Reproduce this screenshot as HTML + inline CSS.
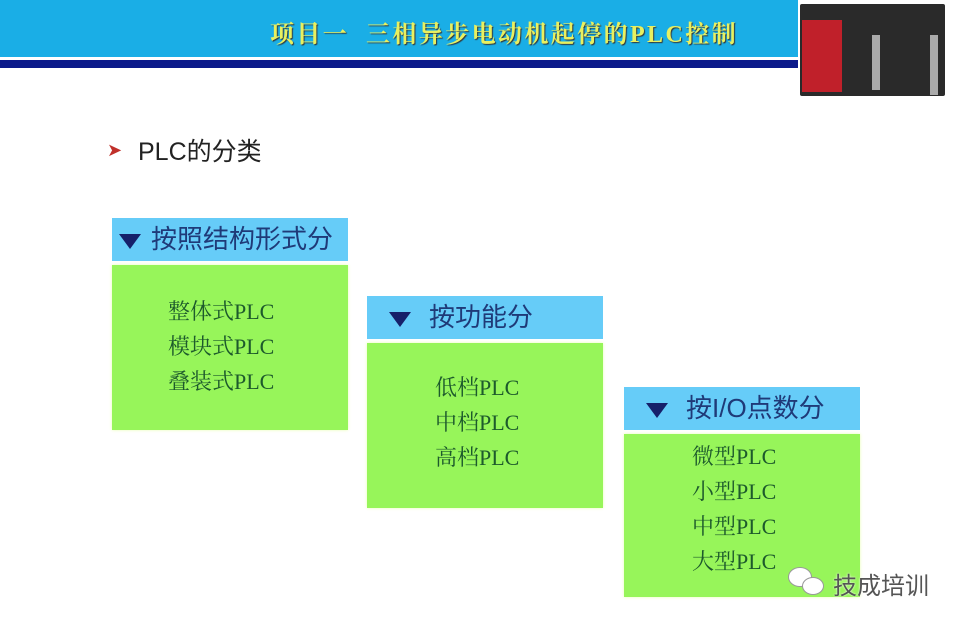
<!DOCTYPE html>
<html><head><meta charset="utf-8"><style>
body{margin:0;width:960px;height:626px;background:#fff;position:relative;overflow:hidden;font-family:"Liberation Serif","Noto Serif CJK SC",serif}
.a{position:absolute}
.h{background:#66ccf8;color:#1f3a78;font-size:26px;font-family:"Liberation Sans","Noto Sans CJK SC",sans-serif;line-height:43px;height:43px;width:236px;white-space:nowrap}
.b{background:#97f55a;color:#1d5a2c;font-size:22px;width:236px;box-shadow:0 0 3px #e8ffb0}
.tri{display:inline-block;width:0;height:0;border-left:11px solid transparent;border-right:11px solid transparent;border-top:15px solid #16206a;vertical-align:middle;margin:0 10px 0 7px}
</style></head><body>
<div class="a" style="left:0;top:0;width:798px;height:57px;background:#1aaee6"></div>
<div class="a" style="left:0;top:60px;width:798px;height:8px;background:#0b1a8a"></div>
<div class="a" style="left:270px;top:14px;font-size:24px;color:#e8f060;font-weight:bold;letter-spacing:2.4px;text-shadow:1px 1px 1px #333">项目一&nbsp;&nbsp;三相异步电动机起停的PLC控制</div>
<div class="a" style="left:800px;top:4px;width:145px;height:92px;background:#2a2a2a;border-radius:2px"></div>
<div class="a" style="left:802px;top:20px;width:40px;height:72px;background:#c0202a"></div>
<div class="a" style="left:872px;top:35px;width:8px;height:55px;background:#aaa"></div>
<div class="a" style="left:930px;top:35px;width:8px;height:60px;background:#aaa"></div>
<div class="a" style="left:107px;top:140px;color:#c0302a;font-size:18px">➤</div>
<div class="a" style="left:138px;top:132px;font-size:25px;color:#222;font-family:'Liberation Sans','Noto Sans CJK SC',sans-serif">PLC的分类</div>

<div class="a h" style="left:112px;top:218px"><span class="tri"></span>按照结构形式分</div>
<div class="a b" style="left:112px;top:265px;height:165px"><div style="padding:29px 0 0 56px;line-height:35px">整体式PLC<br>模块式PLC<br>叠装式PLC</div></div>

<div class="a h" style="left:367px;top:296px"><span class="tri" style="margin-left:22px;margin-right:18px"></span>按功能分</div>
<div class="a b" style="left:367px;top:343px;height:165px"><div style="padding:27px 0 0 68px;line-height:35px">低档PLC<br>中档PLC<br>高档PLC</div></div>

<div class="a h" style="left:624px;top:387px"><span class="tri" style="margin-left:22px;margin-right:18px"></span>按I/O点数分</div>
<div class="a b" style="left:624px;top:434px;height:163px"><div style="padding:5px 0 0 68px;line-height:35px">微型PLC<br>小型PLC<br>中型PLC<br>大型PLC</div></div>

<div class="a" style="left:788px;top:567px;width:22px;height:18px;border-radius:50%;background:#fff;border:1px solid #999"></div>
<div class="a" style="left:802px;top:577px;width:20px;height:16px;border-radius:50%;background:#fff;border:1px solid #999"></div>
<div class="a" style="left:833px;top:566px;font-size:24px;color:#555;font-family:'Liberation Sans','Noto Sans CJK SC',sans-serif;text-shadow:0 0 2px #fff">技成培训</div>
</body></html>
